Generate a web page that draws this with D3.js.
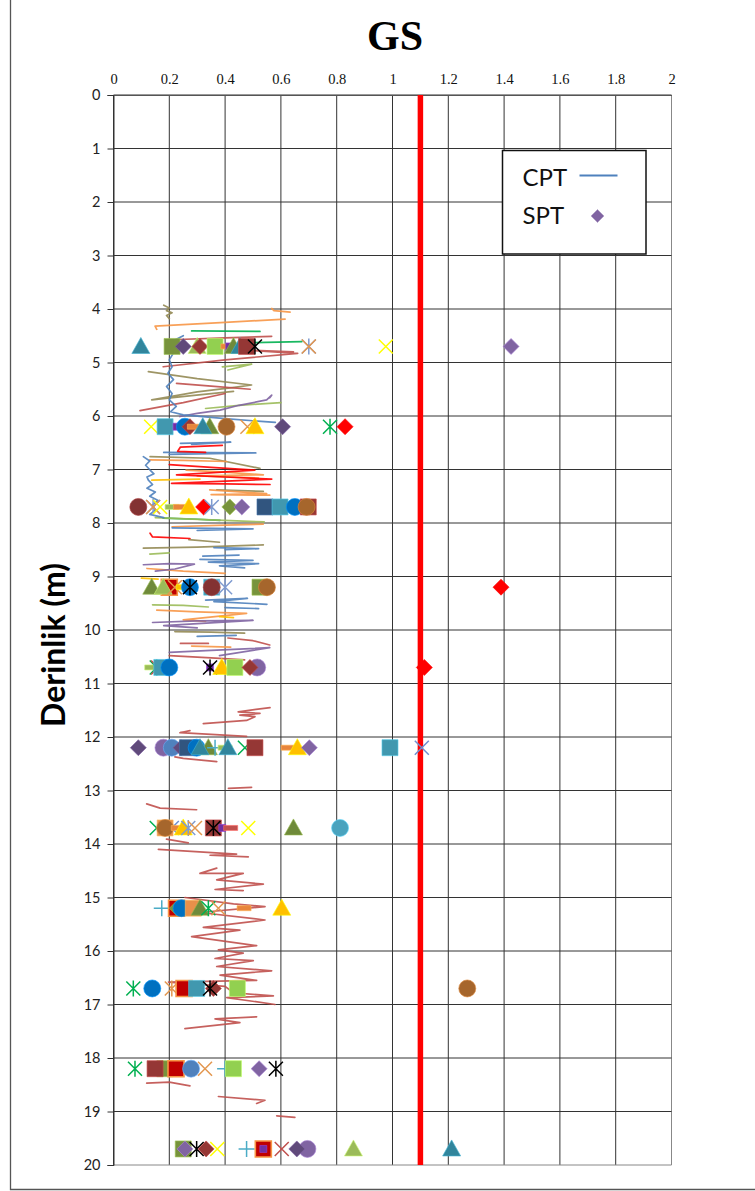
<!DOCTYPE html>
<html>
<head>
<meta charset="utf-8">
<script src="https://cdn.jsdelivr.net/npm/d3@7"></script>
<style>
  html, body { margin: 0; padding: 0; background: #fff; }
  svg { display: block; }
</style>
</head>
<body>
<svg id="chart" width="755" height="1191"></svg>
<script>
// ---- axis ticks -------------------------------------------------------
const xTickValues = [0, 0.2, 0.4, 0.6, 0.8, 1, 1.2, 1.4, 1.6, 1.8, 2];
const yTickValues = d3.range(0, 21, 1);
const limitValue = 1.1;

// ---- CPT traces: [ratio, depth], null breaks a trace -------------------
const cptBlue = [
  [0.25,4.50],[0.22,4.58],[0.205,4.70],[0.215,4.82],[0.20,4.95],[0.21,5.08],[0.195,5.20],[0.215,5.32],
  [0.19,5.45],[0.21,5.58],[0.20,5.70],[0.225,5.82],[0.205,5.92],[0.25,5.98],[0.40,6.05],[0.58,6.12],null,
  [0.24,6.51],[0.42,6.49],[0.28,6.53],null,
  [0.18,6.68],[0.51,6.69],[0.20,6.72],null,
  [0.107,6.76],[0.13,6.84],[0.115,6.92],[0.131,7.01],[0.145,7.08],[0.12,7.14],[0.125,7.20],[0.14,7.28],
  [0.12,7.35],[0.15,7.42],[0.13,7.50],[0.16,7.58],[0.14,7.66],[0.15,7.76],[0.13,7.84],[0.18,7.90],null,
  [0.21,8.09],[0.50,8.11],[0.30,8.14],null,
  [0.36,8.46],[0.52,8.48],[0.40,8.50],null,
  [0.31,8.68],[0.50,8.70],[0.34,8.73],[0.52,8.76],[0.38,8.80],[0.47,8.84],null,
  [0.33,9.44],[0.48,9.41],[0.36,9.47],[0.55,9.52],null,
  [0.32,8.62],[0.45,8.60],null,
  [0.40,9.58],[0.52,9.60],null,
  [0.30,10.12],[0.44,10.10]
];
const cptOrange = [
  [0.567,3.99],[0.575,4.03],[0.633,4.06],null,
  [0.615,4.19],[0.40,4.25],[0.149,4.32],[0.155,4.38],null,
  [0.13,6.82],[0.25,6.83],[0.406,6.85],null,
  [0.26,7.01],[0.40,7.05],[0.537,7.10],[0.30,7.12],[0.52,7.16],null,
  [0.345,7.38],[0.45,7.42],[0.549,7.45],[0.35,7.47],[0.56,7.48],null,
  [0.21,8.07],[0.40,8.04],[0.537,8.02],null,
  [0.12,8.85],[0.25,8.90],[0.40,8.94],null,
  [0.155,9.63],[0.30,9.66],[0.477,9.69],[0.25,9.81],[0.33,9.84],null,
  [0.28,10.30],[0.42,10.32]
];
const cptGreen = [
  [0.28,4.41],[0.525,4.42],null,
  [0.50,4.63],[0.675,4.61],null,
  [0.178,7.91],[0.30,7.93],[0.382,7.95]
];
const cptDarkRed = [
  [0.567,4.51],[0.40,4.54],[0.232,4.57],[0.19,4.60],null,
  [0.645,4.80],[0.477,4.77],[0.66,4.83],[0.40,4.95],[0.178,5.08],null,
  [0.226,5.39],[0.35,5.44],[0.49,5.50],null,
  [0.095,5.90],[0.25,5.75],[0.40,5.58],null,
  [0.24,10.25],[0.34,10.25],null,
  [0.41,10.15],[0.50,10.20],[0.56,10.28],null,
  [0.20,10.48],[0.35,10.52],[0.47,10.56]
];
const cptKhaki = [
  [0.18,3.93],[0.20,3.98],[0.19,4.03],[0.21,4.07],[0.19,4.12],[0.20,4.18],null,
  [0.125,5.17],[0.30,5.30],[0.495,5.42],[0.44,5.46],[0.30,5.55],[0.137,5.70],[0.28,5.62],[0.43,5.54],null,
  [0.131,6.76],[0.345,6.79],[0.525,6.98],null,
  [0.37,7.38],[0.537,7.41],null,
  [0.27,8.31],[0.38,8.36],null,
  [0.107,8.47],[0.30,8.45],[0.537,8.41],null,
  [0.22,10.03],[0.35,10.04],[0.47,10.06]
];
const cptPurple = [
  [0.238,6.01],[0.30,5.95],[0.382,5.89],[0.45,5.80],[0.549,5.70],[0.567,5.61],[0.56,5.66],null,
  [0.107,8.78],[0.20,8.76],[0.29,8.77],[0.22,8.86],[0.15,8.90],null,
  [0.14,9.86],[0.30,9.83],[0.50,9.82],[0.18,9.92],[0.30,9.96],null,
  [0.20,10.42],[0.35,10.38],[0.56,10.33],[0.38,10.48]
];
const cptLightGreen = [
  [0.39,5.08],[0.495,5.03],[0.41,5.14],null,
  [0.33,5.86],[0.45,5.80],[0.60,5.75],null,
  [0.15,7.90],[0.35,7.94],[0.54,7.98],null,
  [0.13,8.58],[0.20,8.56],null,
  [0.14,9.53],[0.25,9.54],[0.34,9.57]
];
const cptRed = [
  [0.39,6.55],[0.24,6.58],[0.23,6.66],[0.33,6.68],null,
  [0.20,6.91],[0.35,6.96],[0.507,7.01],[0.226,7.10],[0.40,7.14],[0.567,7.18],[0.208,7.26],[0.40,7.27],[0.561,7.28],null,
  [0.131,8.19],[0.14,8.26],[0.274,8.29]
];
const cptYellow = [
  [0.137,7.20],[0.31,7.18],null,
  [0.10,9.03],[0.16,9.05],null,
  [0.38,9.75],[0.43,9.77]
];
const cptDeep = [
  [0.561,11.45],[0.447,11.53],[0.525,11.56],[0.453,11.59],[0.507,11.62],[0.477,11.69],[0.322,11.75],null,
  [0.274,11.88],[0.238,11.92],[0.477,11.99],null,
  [0.22,12.37],[0.25,12.40],[0.37,12.46],null,
  [0.412,12.96],[0.495,12.94],null,
  [0.119,13.25],[0.167,13.33],[0.298,13.36],null,
  [0.19,13.91],[0.268,13.98],null,
  [0.161,14.10],[0.441,14.19],[0.346,14.21],[0.483,14.24],null,
  [0.37,14.45],[0.31,14.55],[0.465,14.55],[0.37,14.67],[0.537,14.75],[0.364,14.85],[0.465,14.87],null,
  [0.256,15.00],[0.43,15.12],[0.543,15.17],[0.31,15.28],[0.543,15.42],[0.322,15.56],[0.453,15.61],
  [0.28,15.73],[0.513,15.90],[0.376,15.98],[0.465,16.04],[0.364,16.14],[0.501,16.18],[0.37,16.29],
  [0.567,16.37],[0.382,16.45],[0.513,16.55],[0.197,16.58],[0.40,16.66],[0.43,16.78],[0.573,16.84],
  [0.406,16.87],[0.579,17.00],null,
  [0.513,17.23],[0.364,17.27],[0.453,17.34],[0.256,17.45],null,
  [0.119,18.47],[0.20,18.45],[0.274,18.52],null,
  [0.376,18.72],[0.543,18.79],[0.513,18.85],null,
  [0.585,19.08],[0.65,19.11]
];

// ---- SPT points per test depth: [ratio, series] ------------------------
const sptDepths = [4.7, 6.2, 7.7, 9.2, 10.7, 12.2, 13.7, 15.2, 16.7, 18.2, 19.7];
const spt47 = [[0.098,'tealTri'],[0.21,'oliveSq'],[0.25,'dpurDia'],[0.30,'lgTri'],[0.31,'drDia'],[0.364,'lgSq'],
  [0.41,'orDash'],[0.415,'purSmall'],[0.43,'olTri'],[0.453,'tealTri'],[0.477,'drSq'],[0.507,'blkStar'],
  [0.70,'bluStar'],[0.70,'orX'],[0.976,'yelX'],[1.425,'purDia']];
const spt62 = [[0.135,'yelX'],[0.185,'tealSq'],[0.226,'purSmall'],[0.256,'bluCirc'],[0.274,'drDia'],[0.29,'orDash'],
  [0.345,'olTri'],[0.32,'tealTri'],[0.405,'brCirc'],[0.48,'orX'],[0.507,'yelTri'],[0.606,'dpurDia'],
  [0.776,'grStar'],[0.83,'redDia']];
const spt77 = [[0.089,'drCirc'],[0.142,'bluStar'],[0.142,'orX'],[0.167,'yelX'],[0.21,'lgDash'],[0.24,'orDash'],
  [0.27,'yelTri'],[0.323,'redDia'],[0.352,'bluStar'],[0.417,'olDia'],[0.46,'purDia'],[0.543,'navySq'],
  [0.597,'tealSq'],[0.65,'bluCirc'],[0.698,'drSq'],[0.692,'brCirc']];
const spt92 = [[0.137,'olTri'],[0.20,'redSq'],[0.178,'lgTri'],[0.22,'orX'],[0.25,'yelDash'],[0.274,'bluCirc'],
  [0.274,'blkStar'],[0.352,'tealSq'],[0.352,'drCirc'],[0.40,'bluStar'],[0.525,'oliveSq'],[0.55,'brCirc'],
  [1.389,'redDia']];
const spt107 = [[0.137,'lgDash'],[0.155,'grStar'],[0.16,'drX'],[0.173,'tealSq'],[0.20,'bluCirc'],[0.346,'purSmall'],
  [0.346,'blkStar'],[0.388,'yelTri'],[0.435,'lgSq'],[0.515,'purCirc'],[0.489,'drDia'],[1.114,'redDia']];
const spt122 = [[0.089,'dpurDia'],[0.179,'purCirc'],[0.209,'bluCirc2'],[0.242,'dpurDia'],[0.265,'navySq'],
  [0.298,'bluCirc'],[0.34,'olTri'],[0.31,'tealTri'],[0.364,'bluPlus'],[0.40,'lgDash'],[0.41,'tealTri'],
  [0.471,'grX'],[0.507,'drSq'],[0.626,'orDash'],[0.659,'yelTri'],[0.702,'purDia'],[0.991,'tealSq'],[1.105,'bluX']];
const spt137 = [[0.155,'grX'],[0.209,'bluX'],[0.185,'orSq'],[0.185,'brCirc'],[0.232,'orDash'],[0.25,'yelTri'],
  [0.268,'bluStar'],[0.292,'orX'],[0.358,'drSq'],[0.358,'blkStar'],[0.39,'purSmall'],[0.42,'drDash'],
  [0.483,'yelX'],[0.645,'olTri'],[0.812,'tealCirc']];
const spt152 = [[0.173,'bluPlus'],[0.226,'redSq'],[0.229,'olDia'],[0.244,'bluCirc'],[0.286,'orSq'],[0.31,'olTri'],
  [0.34,'grStar'],[0.376,'orX'],[0.468,'orDash'],[0.603,'yelTri']];
const spt167 = [[0.071,'grStar'],[0.139,'bluCirc'],[0.209,'orStar'],[0.253,'redSq'],[0.298,'tealSq'],
  [0.358,'drDia'],[0.346,'blkStar'],[0.444,'lgSq'],[1.268,'brCirc']];
const spt182 = [[0.077,'grStar'],[0.184,'oliveSq'],[0.149,'drSq'],[0.224,'redSq'],[0.278,'bluCirc2'],[0.328,'orX'],
  [0.40,'bluPlus'],[0.43,'lgSq'],[0.522,'purDia'],[0.582,'blkStar']];
const spt197 = [[0.25,'oliveSq'],[0.256,'purDia'],[0.298,'blkStar'],[0.332,'drDia'],[0.372,'yelX'],[0.477,'bluPlus'],
  [0.537,'redSq'],[0.537,'purSmall'],[0.603,'drX'],[0.695,'purCirc'],[0.657,'dpurDia'],[0.86,'lgTri'],
  [1.212,'tealTri']];
const sptRows = [spt47, spt62, spt77, spt92, spt107, spt122, spt137, spt152, spt167, spt182, spt197];

// ---- styling -----------------------------------------------------------
const cptStyles = [
  [cptKhaki, '#948A54'], [cptOrange, '#F79646'], [cptGreen, '#00B050'], [cptDarkRed, '#C0504D'],
  [cptLightGreen, '#9BBB59'], [cptPurple, '#8064A2'], [cptBlue, '#4F81BD'], [cptRed, '#FF0000'],
  [cptYellow, '#FFC000'], [cptDeep, '#C0504D']
];
const markerStyles = {
  tealTri:  { shape: 'triangle', color: '#31859C' },
  oliveSq:  { shape: 'square',   color: '#77933C' },
  dpurDia:  { shape: 'diamond',  color: '#604A7B' },
  lgTri:    { shape: 'triangle', color: '#9BBB59' },
  drDia:    { shape: 'diamond',  color: '#953735' },
  lgSq:     { shape: 'square',   color: '#92D050' },
  orDash:   { shape: 'dash',     color: '#E8853C' },
  purSmall: { shape: 'small',    color: '#7030A0' },
  olTri:    { shape: 'triangle', color: '#6F8A3A' },
  drSq:     { shape: 'square',   color: '#953735' },
  blkStar:  { shape: 'star',     color: '#000000' },
  bluStar:  { shape: 'star',     color: '#7F9BD0' },
  orX:      { shape: 'x',        color: '#E3974F' },
  yelX:     { shape: 'x',        color: '#FFFF00' },
  purDia:   { shape: 'diamond',  color: '#8064A2' },
  tealSq:   { shape: 'square',   color: '#4198AF' },
  bluCirc:  { shape: 'circle',   color: '#0070C0' },
  brCirc:   { shape: 'circle',   color: '#A6662C' },
  yelTri:   { shape: 'triangle', color: '#FFC000' },
  grStar:   { shape: 'star',     color: '#00B050' },
  redDia:   { shape: 'diamond',  color: '#FF0000' },
  drCirc:   { shape: 'circle',   color: '#833232' },
  lgDash:   { shape: 'dash',     color: '#9BBB59' },
  navySq:   { shape: 'square',   color: '#31557F' },
  olDia:    { shape: 'diamond',  color: '#77933C' },
  redSq:    { shape: 'square',   color: '#C00000', edge: '#F79646' },
  yelDash:  { shape: 'dash',     color: '#FFC000' },
  purCirc:  { shape: 'circle',   color: '#8064A2' },
  bluCirc2: { shape: 'circle',   color: '#4F81BD' },
  bluPlus:  { shape: 'plus',     color: '#4BACC6' },
  grX:      { shape: 'x',        color: '#00B050' },
  bluX:     { shape: 'x',        color: '#6F8FD0' },
  tealCirc: { shape: 'circle',   color: '#4AA3BE' },
  orSq:     { shape: 'square',   color: '#E8904A' },
  drX:      { shape: 'x',        color: '#C0504D' },
  drDash:   { shape: 'dash',     color: '#C0504D' },
  orStar:   { shape: 'star',     color: '#E3974F' }
};

// ---- layout ------------------------------------------------------------
const svg = d3.select('#chart');
const plot = { left: 113.5, right: 671.5, top: 95, bottom: 1165 };
const x = d3.scaleLinear().domain([0, 2]).range([plot.left, plot.right]);
const y = d3.scaleLinear().domain([0, 20]).range([plot.top, plot.bottom]);

svg.append('rect').attr('width', 755).attr('height', 1191).attr('fill', '#fff');

// outer frame (left and bottom edges of the chart area)
svg.append('path')
  .attr('d', 'M10.5,0 V1189.5 H755')
  .attr('fill', 'none').attr('stroke', '#555').attr('stroke-width', 1.3);

// title
svg.append('text')
  .attr('x', 395).attr('y', 50)
  .attr('text-anchor', 'middle')
  .style('font-family', '"Liberation Serif", "Times New Roman", serif')
  .style('font-weight', 'bold').style('font-size', '42px')
  .text('GS');

// grid
const grid = svg.append('g');
grid.selectAll('line.v').data(xTickValues).join('line')
  .attr('x1', d => x(d)).attr('x2', d => x(d))
  .attr('y1', plot.top).attr('y2', plot.bottom)
  .attr('stroke', (d, i) => i === xTickValues.length - 1 ? '#888' : '#333').attr('stroke-width', 1);
grid.selectAll('line.h').data(yTickValues).join('line')
  .attr('x1', plot.left).attr('x2', plot.right)
  .attr('y1', d => y(d)).attr('y2', d => y(d))
  .attr('stroke', (d, i) => i === yTickValues.length - 1 ? '#888' : '#333').attr('stroke-width', 1);

// x axis along the top
const xAxis = svg.append('g')
  .attr('transform', `translate(0,${plot.top})`)
  .call(d3.axisTop(x).tickValues(xTickValues).tickSize(0).tickPadding(11)
    .tickFormat(d => String(+d.toFixed(1))));
xAxis.select('.domain').attr('stroke', '#555');
xAxis.selectAll('text')
  .style('font-family', '"Liberation Serif", "Times New Roman", serif')
  .style('font-size', '14.5px').attr('fill', '#111');

// y axis (depth)
const yAxis = svg.append('g')
  .attr('transform', `translate(${plot.left},0)`)
  .call(d3.axisLeft(y).tickValues(yTickValues).tickSize(6).tickPadding(7));
yAxis.select('.domain').attr('stroke', '#333');
yAxis.selectAll('.tick line').attr('stroke', '#333');
yAxis.selectAll('text')
  .style('font-family', 'Lato, "Open Sans", sans-serif')
  .style('font-size', '14.5px').attr('fill', '#222');

svg.append('text')
  .attr('transform', 'translate(65,645) rotate(-90)')
  .attr('text-anchor', 'middle')
  .style('font-family', 'Lato, "Open Sans", sans-serif')
  .style('font-weight', 'bold').style('font-size', '32px')
  .text('Derinlik (m)');

// CPT traces
const line = d3.line().defined(d => d !== null).x(d => x(d[0])).y(d => y(d[1]));
const traces = svg.append('g').attr('fill', 'none').attr('stroke-linejoin', 'round').attr('stroke-linecap', 'round');
cptStyles.forEach(([pts, color]) => {
  traces.append('path').attr('d', line(pts))
    .attr('stroke', color).attr('stroke-width', 1.7).attr('stroke-opacity', 0.9);
});

// limit line
svg.append('line')
  .attr('x1', x(limitValue)).attr('x2', x(limitValue))
  .attr('y1', plot.top).attr('y2', plot.bottom)
  .attr('stroke', '#FF0000').attr('stroke-width', 5.5);

// SPT markers
function markerPath(shape) {
  switch (shape) {
    case 'square':   return 'M-8,-8H8V8H-8Z';
    case 'small':    return 'M-3.5,-3.5H3.5V3.5H-3.5Z';
    case 'diamond':  return 'M0,-8L8,0L0,8L-8,0Z';
    case 'triangle': return 'M0,-9L9,7L-9,7Z';
    case 'circle':   return 'M8.5,0A8.5,8.5 0 1,1 -8.5,0A8.5,8.5 0 1,1 8.5,0Z';
    case 'dash':     return 'M-7,-2.5H7V2.5H-7Z';
    case 'x':        return 'M-7,-7L7,7M-7,7L7,-7';
    case 'star':     return 'M-7,-7L7,7M-7,7L7,-7M0,-8V8';
    case 'plus':     return 'M-8,0H8M0,-8V8';
  }
}
const strokeShapes = new Set(['x', 'star', 'plus']);
const markers = svg.append('g');
sptRows.forEach((row, i) => {
  const depth = sptDepths[i];
  row.forEach(([v, key]) => {
    const st = markerStyles[key];
    const p = markers.append('path')
      .attr('transform', `translate(${x(v)},${y(depth)})`)
      .attr('d', markerPath(st.shape));
    if (strokeShapes.has(st.shape)) {
      p.attr('fill', 'none').attr('stroke', st.color).attr('stroke-width', 1.5);
    } else {
      p.attr('fill', st.color)
        .attr('stroke', st.edge || d3.color(st.color).brighter(0.8).formatHex())
        .attr('stroke-width', st.edge ? 1.6 : 0.9)
        .attr('stroke-opacity', st.edge ? 1 : 0.7);
    }
  });
});

// legend
const legend = svg.append('g').attr('transform', 'translate(502.5,150.5)');
legend.append('rect').attr('width', 143.5).attr('height', 103.5)
  .attr('fill', '#fff').attr('stroke', '#111').attr('stroke-width', 1.5);
legend.append('text').attr('x', 20).attr('y', 35)
  .style('font-family', 'Lato, "Open Sans", sans-serif').style('font-size', '24px').attr('fill', '#111')
  .text('CPT');
legend.append('line').attr('x1', 77).attr('x2', 115).attr('y1', 25).attr('y2', 25)
  .attr('stroke', '#4F81BD').attr('stroke-width', 2);
legend.append('text').attr('x', 20).attr('y', 73)
  .style('font-family', 'Lato, "Open Sans", sans-serif').style('font-size', '24px').attr('fill', '#111')
  .text('SPT');
legend.append('path').attr('transform', 'translate(95,65.5)')
  .attr('d', 'M0,-6.5L6.5,0L0,6.5L-6.5,0Z')
  .attr('fill', '#8064A2').attr('stroke', '#B3A2C7').attr('stroke-width', 0.8);
</script>
</body>
</html>
